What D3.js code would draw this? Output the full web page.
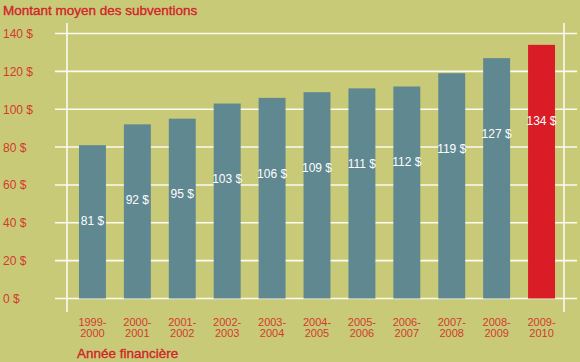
<!DOCTYPE html>
<html>
<head>
<meta charset="utf-8">
<script src="https://cdn.jsdelivr.net/npm/d3@7"></script>
<style>
  body { margin: 0; background: #c8ca78; }
  svg { display: block; font-family: "Liberation Sans", Arial, sans-serif; }
</style>
</head>
<body>
<div id="chart"></div>
<script>
// Data
const years = ["1999-2000", "2000-2001", "2001-2002", "2002-2003", "2003-2004", "2004-2005",
               "2005-2006", "2006-2007", "2007-2008", "2008-2009", "2009-2010"];
const amounts = [81, 92, 95, 103, 106, 109, 111, 112, 119, 127, 134];
const yTicks = [0, 20, 40, 60, 80, 100, 120, 140];
const highlightYear = "2009-2010";

const W = 580, H = 362;
const textRed = "#d2232a";

const svg = d3.select("#chart").append("svg")
  .attr("width", W)
  .attr("height", H);

svg.append("rect").attr("width", W).attr("height", H).attr("fill", "#c8ca78");

const x = d3.scaleBand().domain(years).range([70, 564]).paddingInner(0.4).paddingOuter(0.2);
const y = d3.scaleLinear().domain([0, 140]).range([298.5, 33.5]);

// grid lines
svg.append("g")
  .selectAll("line")
  .data(yTicks)
  .join("line")
  .attr("x1", 55).attr("x2", 577)
  .attr("y1", d => y(d)).attr("y2", d => y(d))
  .attr("stroke", "#fbfbf0").attr("stroke-width", 1.6);

// vertical frame lines
[67, 564].forEach(xx => {
  svg.append("line")
    .attr("x1", xx).attr("x2", xx)
    .attr("y1", 23).attr("y2", 312)
    .attr("stroke", "#fbfbf0").attr("stroke-width", 1.6);
});

// y tick labels
svg.append("g")
  .selectAll("text")
  .data(yTicks)
  .join("text")
  .attr("x", 3)
  .attr("y", d => y(d) + 4.5)
  .attr("fill", "#d33a2c")
  .attr("font-size", 12)
  .text(d => d + " $");

// bars
svg.append("g")
  .selectAll("rect")
  .data(years)
  .join("rect")
  .attr("x", d => x(d))
  .attr("width", x.bandwidth())
  .attr("y", (d, i) => y(amounts[i]))
  .attr("height", (d, i) => y(0) - y(amounts[i]))
  .attr("fill", d => d === highlightYear ? "#d91c25" : "#5f8891");

// value labels
svg.append("g")
  .selectAll("text")
  .data(years)
  .join("text")
  .attr("x", d => x(d) + x.bandwidth() / 2)
  .attr("y", (d, i) => y(amounts[i] - 40) + 4)
  .attr("text-anchor", "middle")
  .attr("fill", "#ffffff")
  .attr("font-size", 12)
  .text((d, i) => amounts[i] + " $");

// x tick labels, two lines
const xl = svg.append("g")
  .selectAll("text")
  .data(years)
  .join("text")
  .attr("text-anchor", "middle")
  .attr("fill", "#d33a2c")
  .attr("font-size", 11);
xl.append("tspan")
  .attr("x", d => x(d) + x.bandwidth() / 2)
  .attr("y", 326)
  .text(d => d.split("-")[0] + "-");
xl.append("tspan")
  .attr("x", d => x(d) + x.bandwidth() / 2)
  .attr("y", 337)
  .text(d => d.split("-")[1]);

// titles
svg.append("text")
  .attr("x", 3).attr("y", 15)
  .attr("fill", textRed)
  .attr("stroke", textRed).attr("stroke-width", 0.35)
  .attr("font-size", 13.5)
  .text("Montant moyen des subventions");

svg.append("text")
  .attr("x", 77).attr("y", 358)
  .attr("fill", textRed)
  .attr("stroke", textRed).attr("stroke-width", 0.35)
  .attr("font-size", 13.5)
  .text("Année financière");
</script>
</body>
</html>
